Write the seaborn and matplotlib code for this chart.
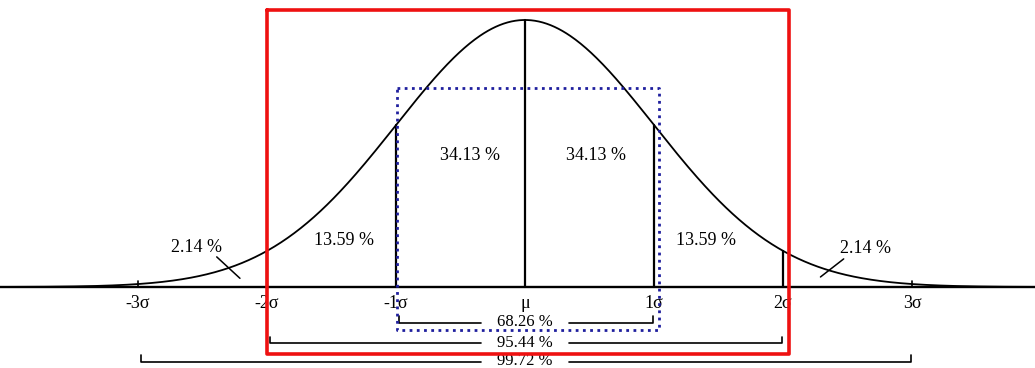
import numpy as np
import pandas as pd
import matplotlib
matplotlib.use("Agg")
import matplotlib.pyplot as plt
import seaborn as sns

# ---- data ----
sigma_pos = [-3, -2, -1, 0, 1, 2, 3]
sigma_labels = ["-3σ", "-2σ", "-1σ", "μ", "1σ", "2σ", "3σ"]
band_labels = ["34.13 %", "34.13 %", "13.59 %", "13.59 %", "2.14 %", "2.14 %"]
band_x = [-0.43, 0.55, -1.4, 1.4, -2.55, 2.64]
band_y = [0.197, 0.197, 0.070, 0.070, 0.059, 0.058]
range_labels = ["68.26 %", "95.44 %", "99.72 %"]
range_k = [1, 2, 3]

sns.set_theme(style="white")
plt.rcParams['font.family'] = ['Liberation Serif', 'DejaVu Serif']
plt.rcParams['text.color'] = 'black'

x = np.linspace(-4.1, 4.0, 800)
pdf = np.exp(-x**2 / 2) / np.sqrt(2 * np.pi)
df = pd.DataFrame({"x": x, "y": pdf})

fig = plt.figure(figsize=(10.35, 3.68), dpi=100)
ax = fig.add_axes([0, 0, 1, 1])
sns.lineplot(data=df, x="x", y="y", ax=ax, color="black", lw=1.3)
ax.set_xlim(-4.07, 3.953)
ax.set_ylim(-0.121, 0.4288)
ax.axis("off")

def npdf(v):
    return np.exp(-v**2 / 2) / np.sqrt(2 * np.pi)

# baseline
ax.axhline(0, color="black", lw=1.7)

# verticals
for s in [-2, -1, 0, 1, 2]:
    ax.plot([s, s], [0, npdf(s)], color="black", lw=1.6)
for s in [-3, 3]:
    ax.plot([s, s], [0, 0.009], color="black", lw=1.2)

# sigma labels
for s, lab in zip(sigma_pos, sigma_labels):
    ax.text(s, -0.012, lab, ha="center", va="top", fontsize=13, color="black")

# band percentages
for lx, ly, lab in zip(band_x, band_y, band_labels):
    ax.text(lx, ly, lab, ha="center", va="center", fontsize=13, color="black")

# pointer slashes for 2.14 %
ax.plot([-2.39, -2.21], [0.045, 0.013], color="black", lw=1.1)
ax.plot([2.29, 2.47], [0.015, 0.042], color="black", lw=1.1)

# range brackets (line broken around the label)
gap = 0.34
bracket_y = [-0.054, -0.084, -0.1115]
for k, by, lab in zip(range_k, bracket_y, range_labels):
    ax.plot([-k + 0.02, -k + 0.02, -gap], [by + 0.01, by, by],
            color="black", lw=1.2)
    ax.plot([gap, k - 0.01, k - 0.01], [by, by, by + 0.01],
            color="black", lw=1.2)
    ax.text(0.0, by + 0.001, lab, ha="center", va="center", fontsize=12,
            color="black")

# red box
ax.plot([-2.0, 2.047, 2.047, -2.0, -2.0],
        [0.414, 0.414, -0.100, -0.100, 0.414], color="#ee1111", lw=2.6,
        zorder=5)
# blue dotted box
ax.plot([-0.99, 1.04, 1.04, -0.99, -0.99],
        [0.297, 0.297, -0.064, -0.064, 0.297], color="#1f1f9e", lw=2.0,
        linestyle=(0, (1, 1.6)), zorder=5)

fig.savefig("out.png", dpi=100)
